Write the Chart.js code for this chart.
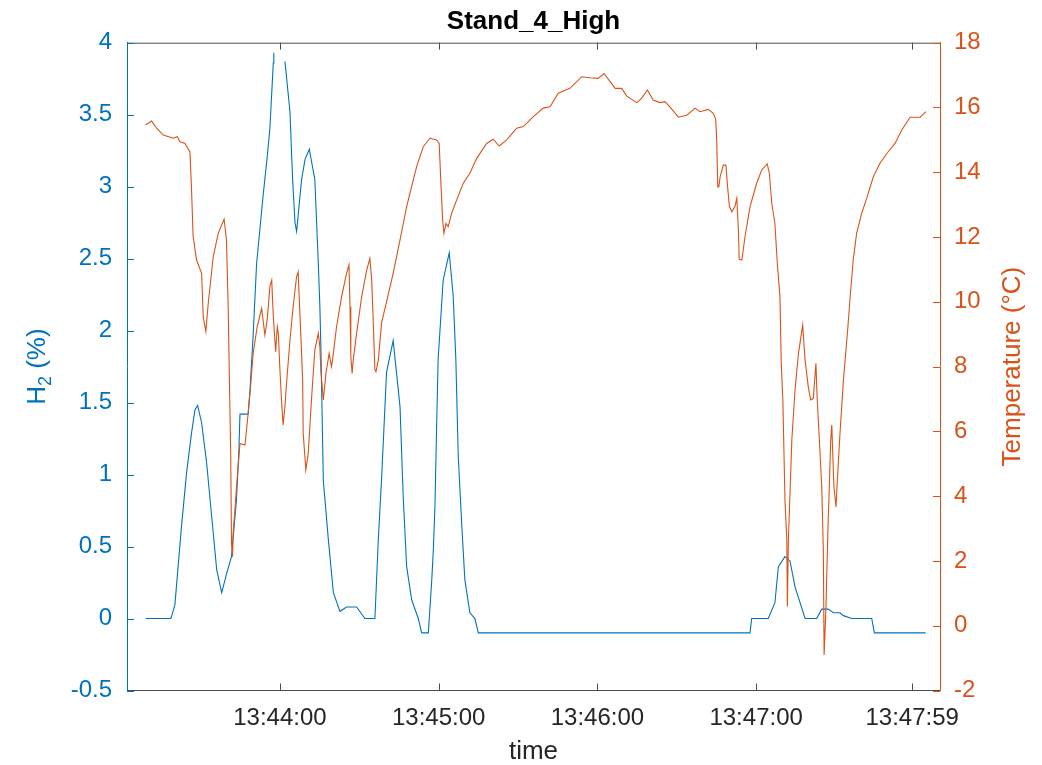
<!DOCTYPE html>
<html>
<head>
<meta charset="utf-8">
<script src="https://cdn.jsdelivr.net/npm/chart.js@4.4.1/dist/chart.umd.min.js"></script>
<style>
html, body { margin: 0; padding: 0; background: #fff; }
#wrap { width: 1042px; height: 765px; }
</style>
</head>
<body>
<div id="wrap"><canvas id="c" width="1042" height="765"></canvas></div>
<script>
// time is seconds after 13:43:00
var h2Time = [9.2, 18.8, 20.3, 22.8, 24.7, 26.6, 27.9, 28.9, 30.4, 32.3, 34.2, 36.1, 38.0, 39.9, 41.7, 43.6, 44.5, 44.9, 48.0, 48.7,
  49.8, 51.2, 53.6, 55.0, 56.2, 57.5, 57.7, 59.8, 61.9, 63.8, 64.8, 65.7, 66.3, 68.2, 69.5, 71.1, 73.2, 74.5, 75.1, 75.5,
  76.4, 78.3, 80.2, 82.7, 85.2, 89.0, 92.1, 95.9, 97.2, 98.4, 100.3, 102.8, 105.4, 106.6, 107.9, 109.8, 112.3, 113.6, 116.1, 117.4,
  118.0, 118.6, 119.2, 119.8, 121.7, 124.0, 125.5, 126.5, 127.4, 128.7, 129.9, 131.8, 133.7, 135.0, 237.7, 238.3, 244.6, 247.1, 248.4, 250.9,
  252.8, 254.7, 258.5, 262.9, 264.8, 267.3, 269.2, 271.7, 273.0, 276.1, 283.7, 284.7, 304.1];
var h2Values = [0, 0, 0.095, 0.64, 1.01, 1.29, 1.45, 1.48, 1.36, 1.08, 0.71, 0.34, 0.18, 0.315, 0.43, 0.83, 1.17, 1.42, 1.42, 1.59,
  1.94, 2.47, 2.93, 3.17, 3.40, 3.86, 3.93, null, 3.87, 3.52, 3.05, 2.75, 2.69, 3.05, 3.19, 3.26, 3.05, 2.47, 2.17, 1.87,
  0.96, 0.55, 0.18, 0.05, 0.08, 0.08, 0, 0, 0.55, 0.96, 1.71, 1.93, 1.47, 0.85, 0.36, 0.13, 0, -0.1, -0.1, 0.27,
  0.48, 0.78, 1.31, 1.80, 2.35, 2.54, 2.24, 1.80, 1.13, 0.66, 0.27, 0.04, 0, -0.1, -0.1, 0, 0, 0.11, 0.36, 0.43,
  0.40, 0.22, 0, 0, 0.065, 0.065, 0.04, 0.04, 0.02, 0, 0, -0.1, -0.1];

var tempTime = [9.2, 11.5, 13.4, 15.9, 19.7, 21.2, 22.2, 24.1, 26.0, 26.6, 27.2, 28.5, 30.4, 31.0, 32.0, 32.9, 34.8, 36.7, 38.9, 39.8,
  40.5, 40.8, 41.4, 41.7, 42.1, 42.3, 43.0, 43.6, 44.9, 46.8, 48.0, 48.9, 49.9, 51.4, 53.1, 54.3, 55.2, 56.2, 56.9, 57.5,
  58.4, 59.0, 59.4, 60.0, 60.6, 61.2, 61.9, 62.5, 63.8, 65.0, 66.3, 66.9, 68.6, 68.8, 69.8, 70.7, 72.0, 73.2, 74.5, 75.1,
  75.5, 76.4, 77.4, 78.6, 79.5, 79.9, 81.4, 83.3, 85.2, 86.1, 86.5, 86.8, 87.3, 87.7, 89.0, 90.9, 92.8, 94.0, 94.7, 95.3,
  95.9, 96.3, 97.2, 98.4, 100.3, 102.8, 105.4, 107.9, 111.7, 114.2, 116.7, 119.2, 120.2, 120.8, 121.5, 122.0, 122.8, 123.6, 124.9, 126.8,
  129.3, 131.8, 134.4, 138.1, 140.6, 142.9, 145.7, 149.5, 152.0, 155.8, 159.5, 162.1, 165.2, 169.6, 174.1, 177.2, 180.3, 182.5, 184.8, 186.7,
  189.2, 191.1, 194.9, 196.7, 198.9, 201.1, 203.7, 205.6, 207.4, 210.6, 213.8, 216.9, 218.8, 221.9, 223.8, 224.7, 225.1, 225.5, 225.9, 226.4,
  227.6, 228.6, 229.1, 229.9, 230.8, 232.0, 232.7, 233.3, 233.6, 234.6, 235.8, 237.7, 240.2, 242.1, 244.2, 245.0, 245.9, 247.1, 248.0, 249.0,
  249.5, 250.1, 250.9, 251.6, 251.8, 252.2, 253.5, 254.7, 256.0, 257.6, 258.5, 259.7, 260.6, 261.6, 262.6, 263.1, 263.9, 264.8, 265.4, 265.7,
  266.4, 267.1, 267.7, 268.2, 268.6, 269.0, 269.4, 270.2, 270.7, 271.7, 273.0, 274.5, 275.5, 276.7, 278.0, 279.9, 281.8, 284.3, 286.8, 289.4,
  292.5, 295.0, 298.2, 302.0, 304.2];
var tempValues = [15.46, 15.58, 15.36, 15.15, 15.05, 15.10, 14.94, 14.89, 14.63, 13.45, 12.01, 11.29, 10.88, 9.54, 9.08, 9.95, 11.39, 12.12, 12.55, 11.91,
  9.65, 8.10, 5.32, 2.54, 2.13, 2.85, 3.57, 4.29, 5.63, 5.58, 6.56, 7.38, 8.41, 9.23, 9.80, 8.98, 9.44, 10.47, 10.67, 9.54,
  8.46, 9.23, 9.03, 7.90, 6.97, 6.20, 6.76, 7.48, 8.82, 9.85, 10.78, 10.93, 7.59, 5.94, 4.81, 5.32, 7.07, 8.51, 9.03, 8.61,
  7.84, 6.97, 7.79, 8.41, 8.00, 8.20, 9.23, 10.16, 10.88, 11.14, 9.85, 8.31, 7.79, 8.20, 9.03, 10.16, 10.98, 11.34, 10.67, 9.34,
  7.90, 7.84, 8.20, 9.34, 10.00, 10.88, 11.91, 12.94, 14.18, 14.79, 15.05, 15.00, 14.89, 13.76, 12.53, 12.12, 12.42, 12.32, 12.73, 13.14,
  13.66, 13.97, 14.43, 14.89, 15.02, 14.81, 15.00, 15.36, 15.41, 15.72, 15.98, 16.02, 16.44, 16.59, 16.95, 16.92, 16.90, 17.05, 16.80, 16.59,
  16.59, 16.35, 16.15, 16.28, 16.54, 16.23, 16.15, 16.18, 16.02, 15.70, 15.76, 15.98, 15.87, 15.94, 15.82, 15.64, 15.00, 13.55, 13.55, 13.86,
  14.22, 14.22, 13.66, 12.94, 12.78, 12.94, 13.20, 12.22, 11.31, 11.29, 12.01, 12.94, 13.66, 14.07, 14.26, 13.97, 13.05, 12.42, 11.19, 10.16,
  8.10, 6.97, 3.88, 2.65, 0.59, 2.65, 5.74, 7.28, 8.41, 9.28, 8.20, 7.38, 6.97, 7.02, 8.10, 6.97, 5.74, 4.29, 2.34, -0.90,
  0.59, 2.85, 4.40, 5.74, 6.20, 5.22, 4.29, 3.67, 4.50, 5.94, 7.59, 9.03, 10.10, 11.29, 12.12, 12.73, 13.20, 13.86, 14.28, 14.58,
  14.89, 15.30, 15.70, 15.70, 15.87];

var xTickValues = [60, 120, 180, 240, 299];
var xTickLabels = ['13:44:00', '13:45:00', '13:46:00', '13:47:00', '13:47:59'];

var blue = '#0072BD', orange = '#D95319', dark = '#262626', boxColor = '#4d4d4d';
var fontFam = '"Liberation Sans", Arial, Helvetica, sans-serif';

function toPoints(xs, ys) {
  return xs.map(function(x, i) { return {x: x, y: ys[i]}; });
}

// inward tick marks, top box line and the two y-axis titles
var axisDecor = {
  id: 'axisDecor',
  afterDraw: function(chart) {
    var ctx = chart.ctx, a = chart.chartArea;
    var xs = chart.scales.x, yl = chart.scales.y, yr = chart.scales.y1;
    var tl = 7;
    function seg(x1, y1, x2, y2) { ctx.beginPath(); ctx.moveTo(x1, y1); ctx.lineTo(x2, y2); ctx.stroke(); }
    ctx.save();
    ctx.lineWidth = 1;
    ctx.strokeStyle = boxColor;
    seg(a.left, a.top + 0.5, a.right, a.top + 0.5);
    xTickValues.forEach(function(v) {
      var px = Math.round(xs.getPixelForValue(v)) + 0.5;
      seg(px, a.bottom, px, a.bottom - tl);
      seg(px, a.top, px, a.top + tl);
    });
    ctx.strokeStyle = blue;
    yl.ticks.forEach(function(t) {
      var py = Math.round(yl.getPixelForValue(t.value)) + 0.5;
      seg(a.left, py, a.left + tl, py);
    });
    ctx.strokeStyle = orange;
    yr.ticks.forEach(function(t) {
      var py = Math.round(yr.getPixelForValue(t.value)) + 0.5;
      seg(a.right, py, a.right - tl, py);
    });

    var cy = (a.top + a.bottom) / 2;
    // left title: H with subscript 2
    ctx.save();
    ctx.translate(38, cy);
    ctx.rotate(-Math.PI / 2);
    ctx.fillStyle = blue;
    ctx.textBaseline = 'middle';
    ctx.textAlign = 'left';
    var big = '26px ' + fontFam, small = '18px ' + fontFam;
    ctx.font = big; var wH = ctx.measureText('H').width; var wR = ctx.measureText(' (%)').width;
    ctx.font = small; var w2 = ctx.measureText('2').width;
    var x0 = -(wH + w2 + wR) / 2;
    ctx.font = big; ctx.fillText('H', x0, 0);
    ctx.font = small; ctx.fillText('2', x0 + wH, 8);
    ctx.font = big; ctx.fillText(' (%)', x0 + wH + w2, 0);
    ctx.restore();
    // right title
    ctx.save();
    ctx.translate(1013, cy);
    ctx.rotate(-Math.PI / 2);
    ctx.fillStyle = orange;
    ctx.textBaseline = 'middle';
    ctx.textAlign = 'center';
    ctx.font = '26px ' + fontFam;
    ctx.fillText('Temperature (\u00B0C)', 0, 0);
    ctx.restore();
    ctx.restore();
  }
};

new Chart(document.getElementById('c'), {
  type: 'line',
  data: {
    datasets: [
      { label: 'Temperature', data: toPoints(tempTime, tempValues), yAxisID: 'y1',
        borderColor: orange, backgroundColor: orange, borderWidth: 1.1, pointRadius: 0, tension: 0, fill: false, order: 0 },
      { label: 'H2', data: toPoints(h2Time, h2Values), yAxisID: 'y',
        borderColor: blue, backgroundColor: blue, borderWidth: 1.1, pointRadius: 0, tension: 0, fill: false, spanGaps: false, order: 1 }
    ]
  },
  options: {
    responsive: false,
    animation: false,
    devicePixelRatio: 1,
    layout: { padding: 0 },
    plugins: {
      legend: { display: false },
      tooltip: { enabled: false },
      title: {
        display: true, text: 'Stand_4_High', color: '#000', fullSize: false,
        font: { family: fontFam, size: 26, weight: 'bold', lineHeight: 1.2 },
        padding: { top: 6, bottom: 5.5 }
      }
    },
    scales: {
      x: {
        type: 'linear', min: 2.2, max: 309.5,
        afterBuildTicks: function(s) { s.ticks = xTickValues.map(function(v) { return {value: v}; }); },
        afterFit: function(s) { s.height = 74.5; },
        grid: { display: false, drawTicks: false },
        border: { display: true, color: boxColor, width: 1 },
        ticks: {
          color: dark, font: { family: fontFam, size: 24 }, padding: 13, maxRotation: 0, autoSkip: false,
          callback: function(v) { var i = xTickValues.indexOf(v); return i >= 0 ? xTickLabels[i] : ''; }
        },
        title: { display: true, text: 'time', color: dark, font: { family: fontFam, size: 26, lineHeight: 1 }, padding: 0 }
      },
      y: {
        position: 'left', min: -0.5, max: 4,
        afterFit: function(s) { s.width = 127; },
        grid: { display: false, drawTicks: false },
        border: { display: true, color: blue, width: 1 },
        ticks: { stepSize: 0.5, color: blue, font: { family: fontFam, size: 24 }, padding: 15,
          callback: function(v) { return String(v); } }
      },
      y1: {
        position: 'right', min: -2, max: 18,
        afterFit: function(s) { s.width = 102; },
        grid: { display: false, drawTicks: false },
        border: { display: true, color: orange, width: 1 },
        ticks: { stepSize: 2, color: orange, font: { family: fontFam, size: 24 }, padding: 14,
          callback: function(v) { return String(v); } }
      }
    }
  },
  plugins: [axisDecor]
});
</script>
</body>
</html>
